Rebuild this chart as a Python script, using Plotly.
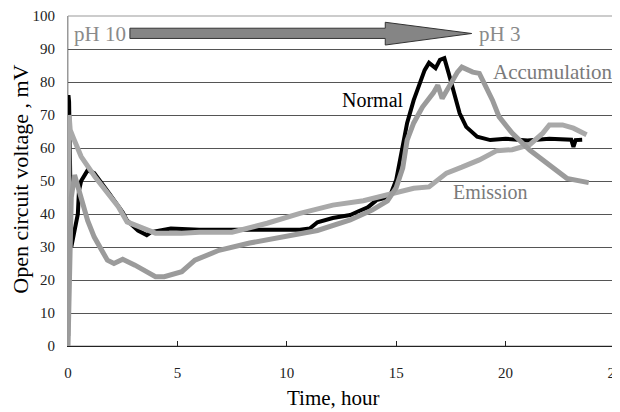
import plotly.graph_objects as go

# ---- data ----
normal_t = [0, 0.02, 0.05, 0.15, 0.3, 0.45, 0.5, 0.6, 0.9, 1.2, 1.8, 2.5, 2.7, 3.2, 3.6, 3.8, 4.7, 6, 7.5,
            10.6, 11.05, 11.4, 12.1, 12.9, 13.2, 13.7, 14.1, 14.7, 15, 15.3, 15.5, 15.8, 16.1, 16.3, 16.5,
            16.8, 17, 17.2, 17.4, 17.6, 17.9, 18.2, 18.7, 19.3, 20, 21, 22, 23, 23.1, 23.2, 23.5]
normal_v = [26, 76, 74, 30, 35, 40, 47, 50, 53.3, 52.4, 47, 40.5, 38, 35, 33.6, 34.5, 35.6, 35.2, 35.2,
            35.2, 35.6, 37.5, 38.8, 39.7, 40.6, 42, 44.2, 45.2, 50.3, 60.3, 67.6, 74.5, 79.7, 83.6, 85.8,
            84.2, 86.7, 87.2, 82.6, 77.6, 70.5, 66.4, 63.4, 62.4, 62.8, 62.3, 62.8, 62.5, 60.3, 62.4, 62.5]

accum_t = [0, 0.08, 0.15, 0.3, 0.5, 0.78, 0.9, 1.2, 1.8, 2.1, 2.5, 3.06, 4.0, 4.4, 5.2, 5.8, 6.9, 8.3, 9.8,
           11.4, 12.9, 13.9, 14.6, 15.0, 15.3, 15.5, 15.8, 16.2, 16.7, 16.9, 17.1, 17.4, 17.8, 18.0, 18.5,
           18.8, 19.1, 19.4, 19.7, 20.3, 21.1, 21.9, 22.8, 23.8]
accum_v = [0, 20, 45, 51.8, 47, 40.3, 38, 33, 26, 25, 26.3, 24.5, 21, 21, 22.5, 26, 29, 31.2, 33,
           35, 38.2, 41.2, 44, 48, 54, 62.4, 67.6, 72.4, 76.7, 79, 75, 78.5, 83, 84.5, 83,
           82.6, 78.5, 74.5, 69.5, 64.5, 59.4, 55.5, 50.8, 49.5]

emis_t = [0, 0.05, 0.1, 0.25, 0.6, 1.23, 1.8, 2.3, 2.7, 3.4, 4.0, 5.2, 6.0, 7.5, 9.1, 10.6, 12.1, 13.5, 14.2,
          15.8, 16.5, 17.3, 18.0, 18.8, 19.6, 20.3, 21.1, 21.7, 22.0, 22.6, 23.1, 23.5, 23.7]
emis_v = [3, 70, 65.5, 63, 57.4, 51.3, 46.3, 42.2, 37.6, 35.7, 34.2, 34.2, 34.5, 34.5, 37.2, 40.2, 42.7, 44,
          45.2, 47.8, 48.2, 52.4, 54.2, 56.4, 59.2, 59.5, 61, 64.5, 67, 67, 66, 64.5, 64]

y_ticks = [0, 10, 20, 30, 40, 50, 60, 70, 80, 90, 100]
x_ticks = [0, 5, 10, 15, 20, 25]

FONT = "Liberation Serif"

fig = go.Figure()
fig.add_trace(go.Scatter(x=normal_t, y=normal_v, mode="lines", name="Normal",
                         line=dict(color="#000000", width=4)))
fig.add_trace(go.Scatter(x=emis_t, y=emis_v, mode="lines", name="Emission",
                         line=dict(color="#a9a9a9", width=5)))
fig.add_trace(go.Scatter(x=accum_t, y=accum_v, mode="lines", name="Accumulation",
                         line=dict(color="#9b9b9b", width=5)))

# arrow pH 10 -> pH 3
arrow = "M 2.83,96.3 L 14.5,96.3 L 14.5,98.1 L 18.45,94.7 L 14.5,91.2 L 14.5,93.2 L 2.83,93.2 Z"

fig.update_layout(
    width=620, height=404,
    margin=dict(l=60, r=13, t=8, b=66, autoexpand=False),
    paper_bgcolor="white", plot_bgcolor="white",
    showlegend=False,
    font=dict(family=FONT, color="#222"),
    xaxis=dict(range=[0, 25], tickvals=x_ticks, ticks="inside", ticklen=5, tickcolor="#222",
               showgrid=False, zeroline=False, showline=True, linecolor="#222", linewidth=1,
               tickfont=dict(family=FONT, size=15, color="#222"), ticklabelstandoff=13,
               ticklabeloverflow="allow"),
    yaxis=dict(range=[0, 100], tickvals=y_ticks, ticks="", showgrid=True, gridcolor="#555",
               gridwidth=1, zeroline=False, showline=True, linecolor="#999", linewidth=1,
               tickfont=dict(family=FONT, size=15, color="#222"), ticklabelstandoff=9),
    shapes=[
        dict(type="rect", xref="paper", yref="paper", x0=0, x1=1, y0=0, y1=1,
             line=dict(color="#999", width=1), layer="below"),
        dict(type="path", xref="x", yref="y", path=arrow, fillcolor="#858585",
             line=dict(color="#333", width=1)),
    ],
    annotations=[
        dict(text="pH 10", x=0.2, y=94.6, xref="x", yref="y", xanchor="left", yanchor="middle",
             showarrow=False, font=dict(family=FONT, size=21, color="#8a8a8a")),
        dict(text="pH 3", x=18.7, y=94.6, xref="x", yref="y", xanchor="left", yanchor="middle",
             showarrow=False, font=dict(family=FONT, size=21, color="#8a8a8a")),
        dict(text="Normal", x=12.45, y=74.5, xref="x", yref="y", xanchor="left", yanchor="middle",
             showarrow=False, font=dict(family=FONT, size=20, color="#000")),
        dict(text="Accumulation", x=19.35, y=83.1, xref="x", yref="y", xanchor="left", yanchor="middle",
             showarrow=False, font=dict(family=FONT, size=21, color="#7a7a7a")),
        dict(text="Emission", x=17.5, y=46.8, xref="x", yref="y", xanchor="left", yanchor="middle",
             showarrow=False, font=dict(family=FONT, size=20, color="#7a7a7a")),
        dict(text="Open circuit voltage , mV", x=-0.086, y=0.507, xref="paper", yref="paper",
             xanchor="center", yanchor="middle", textangle=-90, showarrow=False,
             font=dict(family=FONT, size=22, color="#000")),
        dict(text="Time, hour", x=0.485, y=-0.158, xref="paper", yref="paper",
             xanchor="center", yanchor="middle", showarrow=False,
             font=dict(family=FONT, size=21, color="#000")),
    ],
)

fig.write_html("out.html", post_script="document.documentElement.style.overflow='hidden';document.body.style.overflow='hidden';")
